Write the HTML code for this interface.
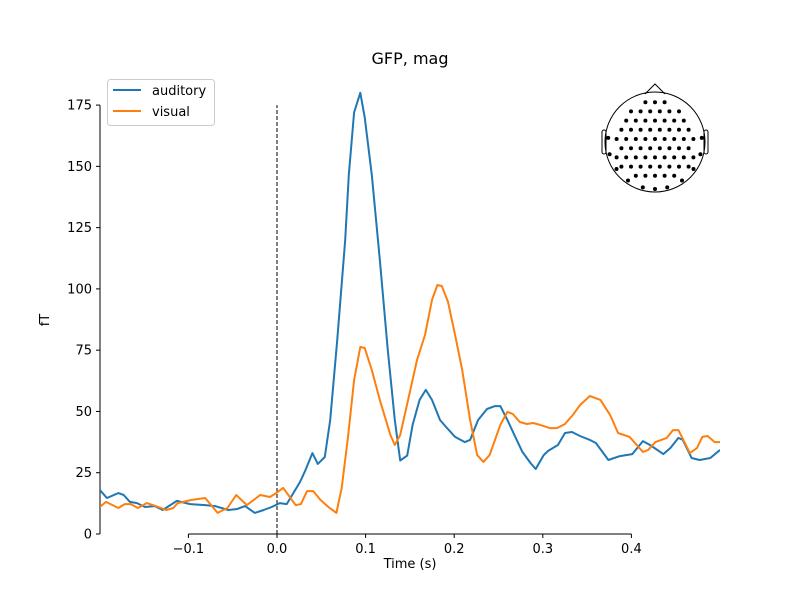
<!DOCTYPE html>
<html><head><meta charset="utf-8"><style>
body{margin:0;background:#fff;}
svg text{font-family:"DejaVu Sans","Liberation Sans",sans-serif;font-size:13px;fill:#000;}
</style></head><body>
<svg id="chart" width="800" height="600" xmlns="http://www.w3.org/2000/svg">
<rect width="800" height="600" fill="#fff"/>
<text x="410" y="64" text-anchor="middle" style="font-size:16px">GFP, mag</text>
<text x="410" y="568" text-anchor="middle">Time (s)</text>
<text x="0" y="0" text-anchor="middle" transform="translate(49,320) rotate(-90)">fT</text>
<g id="axes"></g>
<defs><clipPath id="plotclip"><rect x="100" y="60" width="620" height="480"/></clipPath></defs>
<g id="series" clip-path="url(#plotclip)"></g>
<g id="legend">
<rect x="107.5" y="79.5" width="107" height="46" rx="3" fill="#fff" stroke="#ccc"/>
<g><line x1="113" y1="90" x2="141" y2="90" stroke="#1f77b4" stroke-width="2"/><text x="152" y="95">auditory</text></g>
<g><line x1="113" y1="111" x2="141" y2="111" stroke="#ff7f0e" stroke-width="2"/><text x="152" y="116">visual</text></g>
</g>
<g id="head"></g>
</svg>
<script>
const xTicks=[-0.1,0.0,0.1,0.2,0.3,0.4];
const xTickLabels=["−0.1","0.0","0.1","0.2","0.3","0.4"];
const yTicks=[0,25,50,75,100,125,150,175];
const yTickLabels=["0","25","50","75","100","125","150","175"];
const audTimes=[-200,-192,-179,-173,-166,-158,-149,-138,-129,-113,-98,-81,-70,-55,-45,-36,-25,-15,-6,3,11,26,32,40,46,54,60,68,77,81,87,94,99,107,116,125,133,139,147,153,161,168,175,184,192,201,212,218,227,237,246,252,260,269,277,286,292,301,306,317,325,333,342,353,360,374,387,401,413,421,436,444,453,458,468,477,489,500];
const audValues=[18,14.7,16.7,15.9,13.1,12.6,11,11.4,9.8,13.5,12.2,11.8,11.4,9.8,10.2,11.4,8.6,9.8,11,12.6,12.2,21.2,26,33,28.6,31.4,46.5,79,120,146.5,172,180,170,146.5,112,75,46.5,30,32,44.5,54.7,58.8,54.7,46.5,43.2,39.6,37.5,38.4,46.5,51,52.2,52.2,46.5,39.6,33.5,29,26.5,32.2,33.9,36.3,41.2,41.6,40,38.4,37.1,30.2,31.8,32.6,37.9,36.3,32.6,35.1,39.2,38.4,31,30.2,31,34.3];
const visTimes=[-200,-193,-179,-172,-165,-157,-147,-134,-125,-117,-112,-96,-81,-67,-56,-46,-34,-19,-8,-1,7,21,27,34,41,49,58,67,73,80,87,94,99,107,116,128,133,139,148,158,167,175,181,186,193,201,209,218,226,233,240,252,260,266,274,282,289,297,308,316,325,334,342,353,365,376,385,398,413,419,427,440,447,453,466,474,480,486,494,500];
const visValues=[11,13.1,10.6,12.2,12.2,10.6,12.6,11,9.8,10.6,12.6,13.9,14.7,8.6,10.6,15.9,11.8,15.9,15.1,16.7,18.8,11.8,12.2,17.5,17.5,13.9,11,8.6,18.8,39.2,62.8,76.3,75.9,66.9,54.7,40.4,36.3,40.4,54.7,71,81.2,95.5,101.6,101.2,94.7,81.2,66.9,46.5,32.2,29.4,32.2,44.5,49.8,49,45.7,44.9,45.3,44.5,43.2,43.2,44.9,48.6,52.6,56.3,54.7,48.6,41.2,39.6,33.5,34.3,37.5,39.2,42.4,42.4,33,35.1,39.6,40,37.5,37.5];

const NS="http://www.w3.org/2000/svg";
const X=t=>277+(t-0)*886;
const Y=v=>534-v*2.451;
function mk(tag,attrs,parent){const e=document.createElementNS(NS,tag);for(const k in attrs)e.setAttribute(k,attrs[k]);parent.appendChild(e);return e;}
const axes=document.getElementById('axes');
let sp=mk('line',{x1:100,y1:Y(0),x2:100,y2:Y(175),stroke:'#000','stroke-width':1},axes);


sp=mk('line',{x1:X(-0.1),y1:534,x2:X(0.4),y2:534,stroke:'#000','stroke-width':1},axes);


yTicks.forEach((v,i)=>{
  mk('line',{x1:96,y1:Y(v),x2:100,y2:Y(v),stroke:'#000'},axes);
  const t=mk('text',{x:92,y:Y(v)+4.5,'text-anchor':'end'},axes);t.textContent=yTickLabels[i];
  
  
});
xTicks.forEach((v,i)=>{
  mk('line',{x1:X(v),y1:534,x2:X(v),y2:538,stroke:'#000'},axes);
  const t=mk('text',{x:X(v),y:553,'text-anchor':'middle'},axes);t.textContent=xTickLabels[i];
  
  
});
const series=document.getElementById('series');
const vl=mk('line',{x1:X(0),y1:Y(0),x2:X(0),y2:Y(175),stroke:'#000','stroke-width':1,'stroke-dasharray':'4,2'},series);


function line(ts,vs,color,name){
  const d=ts.map((t,i)=>(i?'L':'M')+X(t/1000).toFixed(1)+','+Y(vs[i]).toFixed(1)).join('');
  const p=mk('path',{d:d,fill:'none',stroke:color,'stroke-width':2,'stroke-linejoin':'round'},series);
  
  
}
line(audTimes,audValues,'#1f77b4','auditory-line');
line(visTimes,visValues,'#ff7f0e','visual-line');
const head=document.getElementById('head');
const cx=655,cy=142,r=50;
mk('circle',{cx:cx,cy:cy,r:r,fill:'none',stroke:'#000','stroke-width':1},head);
mk('path',{d:`M${cx-10},${cy-r+2} L${cx},${cy-r-8} L${cx+10},${cy-r+2}`,fill:'none',stroke:'#000'},head);
mk('rect',{x:cx-r-3,y:cy-12,width:4,height:24,rx:2,fill:'none',stroke:'#000'},head);
mk('rect',{x:cx+r-1,y:cy-12,width:4,height:24,rx:2,fill:'none',stroke:'#000'},head);
for(let row=-4;row<=4;row++){
  const yy=cy-3+row*9.2;
  const off=(row%2)?4.8:0;
  for(let col=-5;col<=5;col++){
    const xx=cx+col*9.6+off;
    const dx=xx-cx, dy=yy-cy;
    if(Math.sqrt(dx*dx+dy*dy)<43) mk('circle',{cx:xx.toFixed(1),cy:yy.toFixed(1),r:2,fill:'#000'},head);
  }
}
const edgeAngles=[-95,-75,-55,-35,-15,0,15,35,55,75,95];
edgeAngles.forEach(d=>{
  const a=d*Math.PI/180;
  mk('circle',{cx:(cx+47*Math.sin(a)).toFixed(1),cy:(cy+47*Math.cos(a)).toFixed(1),r:2,fill:'#000'},head);
});
</script>
</body></html>
